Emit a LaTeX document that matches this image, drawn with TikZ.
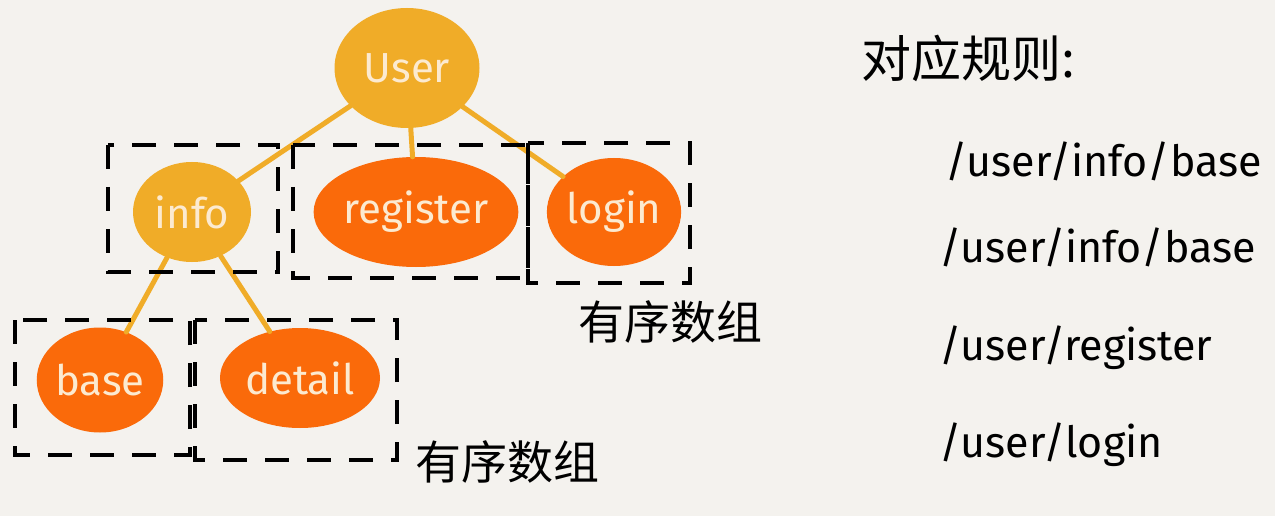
\documentclass[tikz,border=0pt]{standalone}
\usepackage{fontspec}
\setmainfont{Fira Sans}
\newfontfamily\cjk{Noto Sans CJK SC}
\usetikzlibrary{shapes.geometric}
\definecolor{paper}{HTML}{F4F2EE}
\definecolor{gold}{HTML}{F0AC28}
\definecolor{tangerine}{HTML}{FA6A0A}
\definecolor{cream}{HTML}{FCEAD0}

\begin{document}
\begin{tikzpicture}[x=1pt, y=-1pt,
  blob/.style={ellipse, inner sep=0pt, text=cream, font=\fontsize{42}{44}\selectfont},
  inner/.style={blob, fill=gold},
  leaf/.style={blob, fill=tangerine},
  link/.style={draw=gold, line width=5pt, line cap=round},
  group/.style={draw=black, line width=4.5pt, dash pattern=on 24pt off 18pt},
  note/.style={font=\cjk\fontsize{46}{48}\selectfont},
  rule/.style={anchor=base west, font=\fontsize{43}{45}\selectfont}]
\fill[paper] (0,0) rectangle (1275,516);
\node[inner, minimum width=145pt, minimum height=120pt] (user) at (407,68) {User};
\node[inner, minimum width=118pt, minimum height=100pt] (info) at (192,212) {info};
\node[leaf, minimum width=185pt, minimum height=110pt] (register) at (416,212) {register};
\node[leaf, minimum width=130pt, minimum height=108pt] (login) at (614,212) {login};
\node[leaf, minimum width=125pt, minimum height=105pt] (base) at (100,380) {base};
\node[leaf, minimum width=160pt, minimum height=100pt] (detail) at (300,378) {detail};
\draw[link] (user) -- (info);
\draw[link] (user) -- (register);
\draw[link] (user) -- (login);
\draw[link] (info) -- (base);
\draw[link] (info) -- (detail);
\draw[group] (108,145) rectangle (278,272);
\draw[group] (293,145) rectangle (528,278);
\draw[group] (528,143) rectangle (690,283);
\draw[group] (15,320) rectangle (190,455);
\draw[group] (195,320) rectangle (397,460);
\node[note] (upper) at (670,322) {有序数组};
\node[note] (lower) at (507,462) {有序数组};
\node[note, anchor=west, font=\cjk\fontsize{50}{52}\selectfont] (title) at (858,58) {对应规则:};
\node[rule] (r1) at (942,177) {/user/info/base};
\node[rule] (r2) at (936,262) {/user/info/base};
\node[rule] (r3) at (936,360) {/user/register};
\node[rule] (r4) at (936,457) {/user/login};
\end{tikzpicture}
\end{document}
